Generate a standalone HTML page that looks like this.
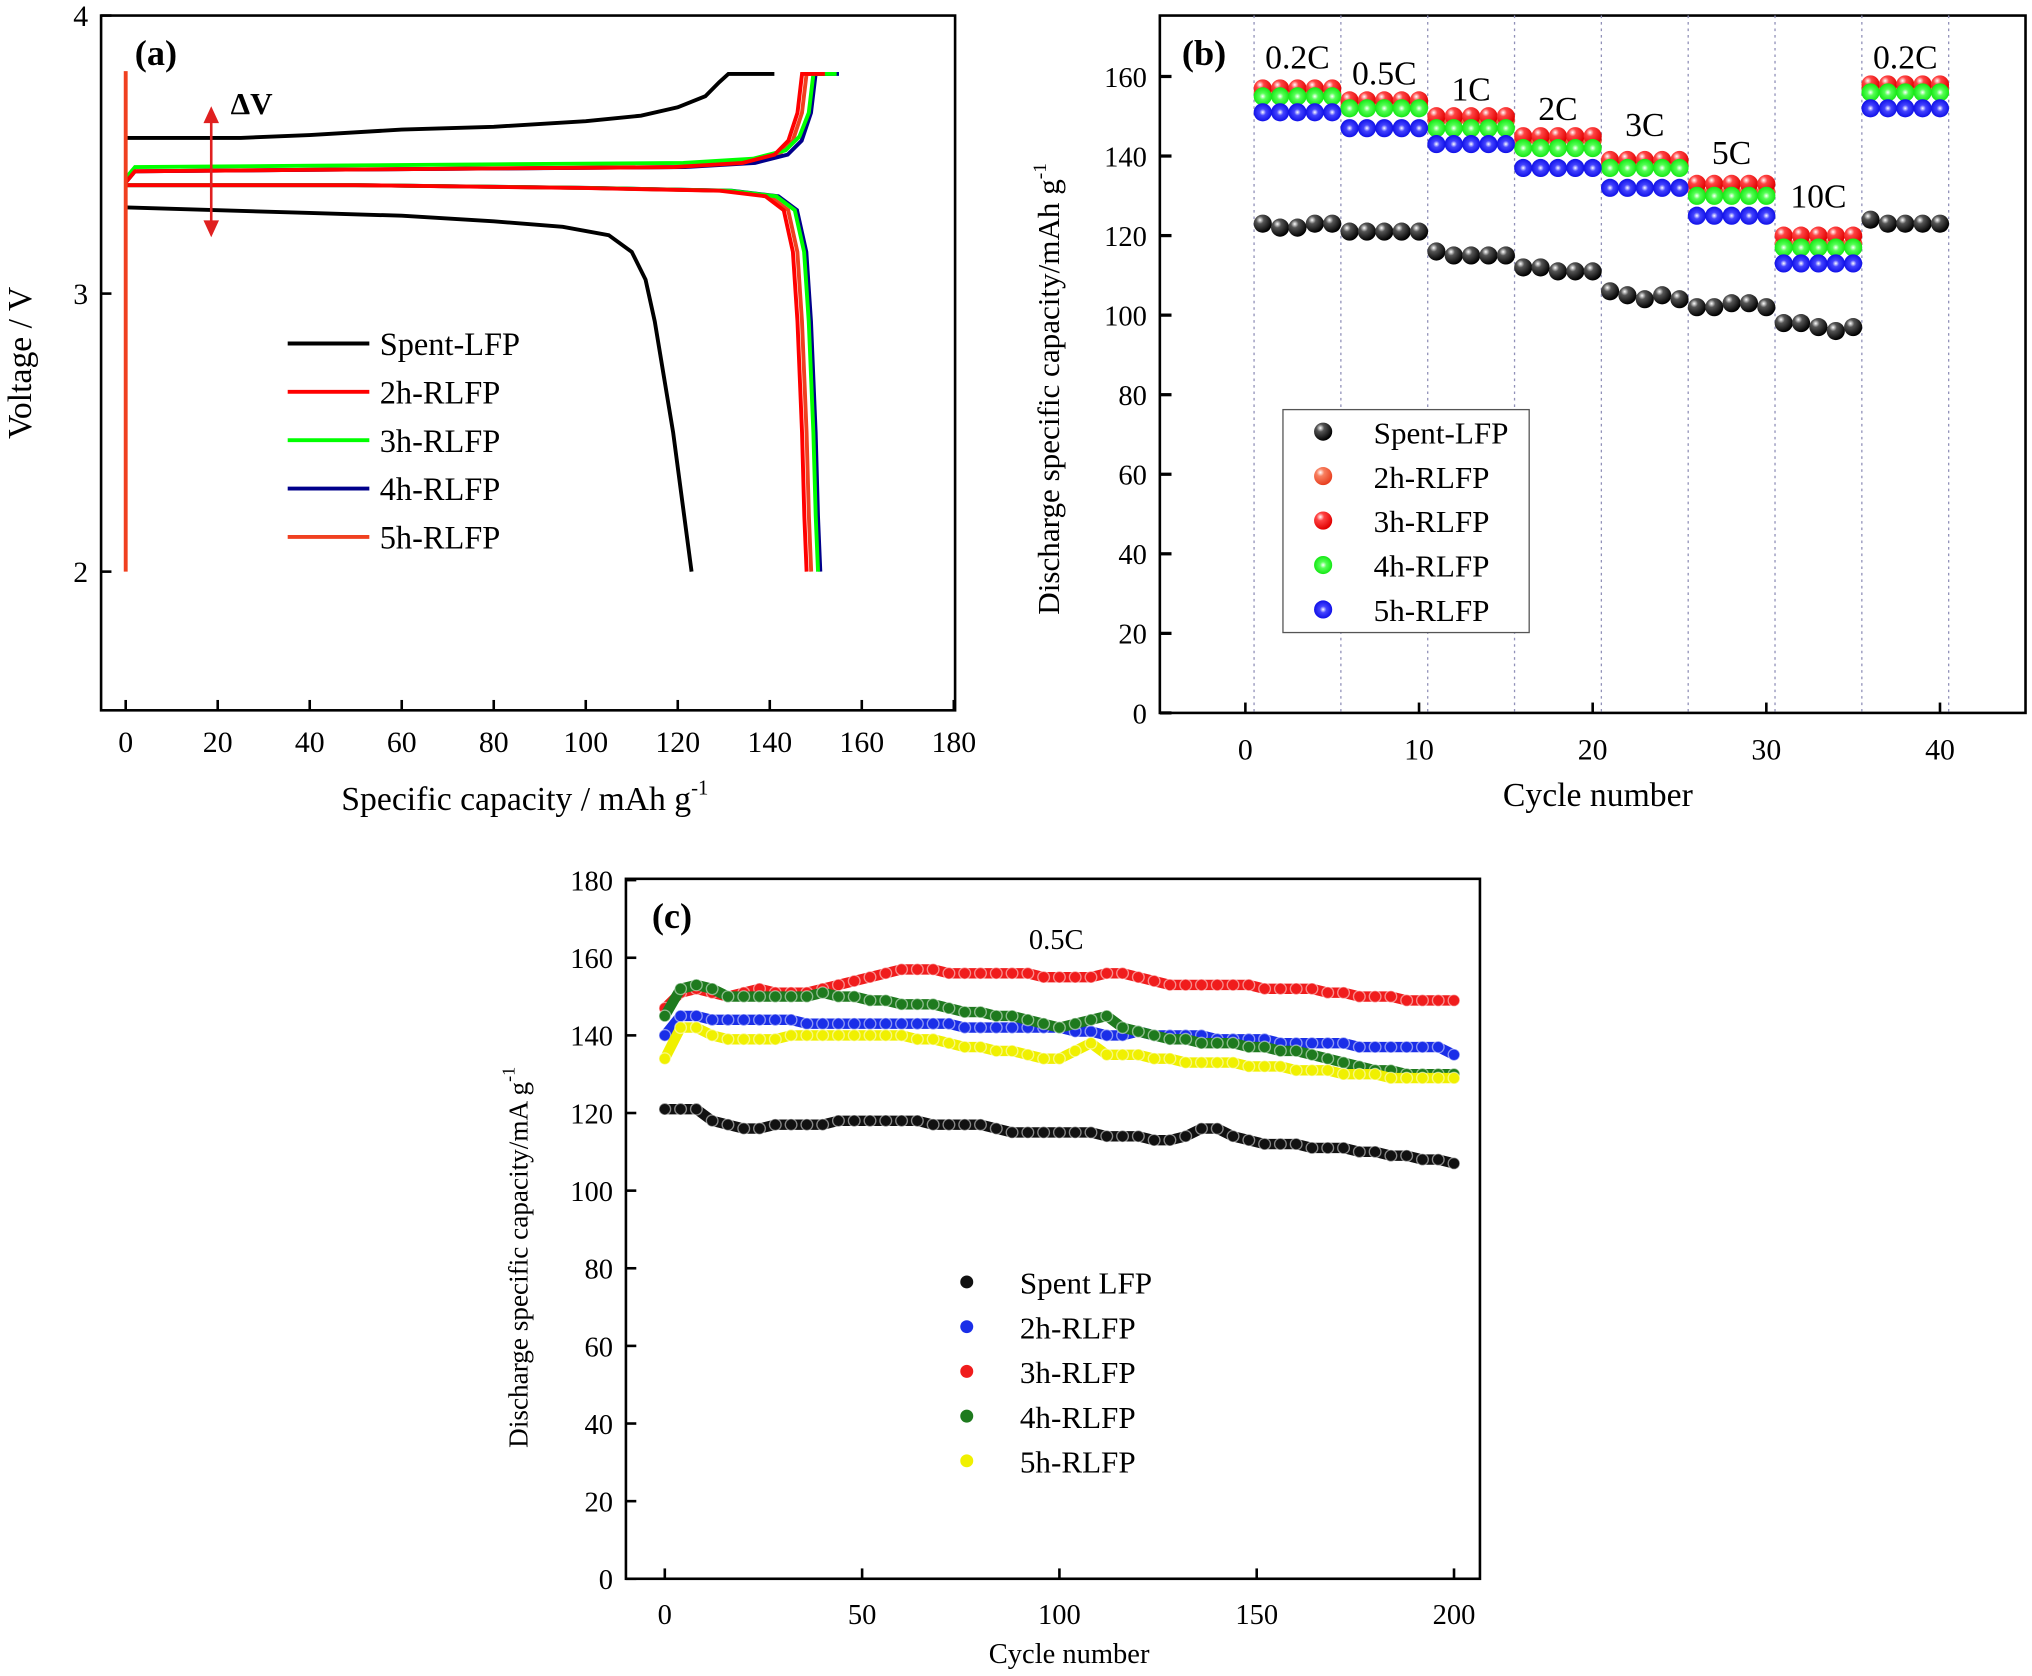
<!DOCTYPE html>
<html><head><meta charset="utf-8"><style>
html,body{margin:0;padding:0;background:#fff;}
svg{display:block;font-family:"Liberation Serif",serif;}
</style></head><body>
<svg id="fig" width="2032" height="1676" viewBox="0 0 1568 1293" preserveAspectRatio="none" xmlns="http://www.w3.org/2000/svg">
<defs>
<radialGradient id="gk" cx="0.35" cy="0.3" r="0.7"><stop offset="0" stop-color="#fff"/><stop offset="0.3" stop-color="#555"/><stop offset="1" stop-color="#000"/></radialGradient>
<radialGradient id="go" cx="0.35" cy="0.3" r="0.7"><stop offset="0" stop-color="#fff"/><stop offset="0.3" stop-color="#f88060"/><stop offset="1" stop-color="#e84020"/></radialGradient>
<radialGradient id="gr" cx="0.35" cy="0.3" r="0.7"><stop offset="0" stop-color="#fff"/><stop offset="0.3" stop-color="#f44"/><stop offset="1" stop-color="#e00000"/></radialGradient>
<radialGradient id="gg" cx="0.5" cy="0.5" r="0.6"><stop offset="0" stop-color="#fff"/><stop offset="0.3" stop-color="#5f5"/><stop offset="1" stop-color="#00e000"/></radialGradient>
<radialGradient id="gb" cx="0.5" cy="0.5" r="0.6"><stop offset="0" stop-color="#fff"/><stop offset="0.3" stop-color="#44f"/><stop offset="1" stop-color="#0000e0"/></radialGradient>
</defs>
<g id="pa"></g>
<g id="pb"></g>
<g id="pc"></g>
</svg>
<script>
// ---------- Panel (a) data ----------
const aSpentCharge = [[0,3.56],[10,3.56],[25,3.56],[40,3.57],[60,3.59],[80,3.60],[100,3.62],[112,3.64],[120,3.67],[126,3.71],[129,3.76],[131,3.79],[141,3.79]];
const aSpentDis = [[0,3.31],[20,3.30],[40,3.29],[60,3.28],[80,3.26],[95,3.24],[105,3.21],[110,3.15],[113,3.05],[115,2.9],[117,2.7],[119,2.5],[121,2.25],[123,2.0]];
const aRCharge = [[0,3.40],[2,3.44],[40,3.445],[80,3.45],[120,3.455],[135,3.47],[142,3.5],[145,3.55],[147,3.65],[148,3.79],[153,3.79]];
const aRDis = [[0,3.39],[50,3.39],[100,3.38],[130,3.37],[140,3.35],[144,3.3],[146,3.15],[147,2.9],[148,2.5],[148.5,2.2],[149,2.0]];
const aSeries = ['Spent-LFP','2h-RLFP','3h-RLFP','4h-RLFP','5h-RLFP'];
const aColors = ['#000','#f00','#0f0','#00008b','#f04020'];
const aShift = [0,-1,1.5,2,0];
const aChargeV = [0,0,0.015,0,0];
const aXTicks = [0,20,40,60,80,100,120,140,160,180];
const aYTicks = [2,3,4];
// ---------- Panel (b) data ----------
const bSeries = ['Spent-LFP','2h-RLFP','3h-RLFP','4h-RLFP','5h-RLFP'];
const bSpent = [123,122,122,123,123,121,121,121,121,121,116,115,115,115,115,112,112,111,111,111,106,105,104,105,104,102,102,103,103,102,98,98,97,96,97,124,123,123,123,123];
const b2h = [156,156,156,156,156,153,153,153,153,153,149,149,149,149,149,144,144,144,144,144,138,138,138,138,138,131,131,131,131,131,118,118,118,118,118,157,157,157,157,157];
const b3h = [157,157,157,157,157,154,154,154,154,154,150,150,150,150,150,145,145,145,145,145,139,139,139,139,139,133,133,133,133,133,120,120,120,120,120,158,158,158,158,158];
const b4h = [155,155,155,155,155,152,152,152,152,152,147,147,147,147,147,142,142,142,142,142,137,137,137,137,137,130,130,130,130,130,117,117,117,117,117,156,156,156,156,156];
const b5h = [151,151,151,151,151,147,147,147,147,147,143,143,143,143,143,137,137,137,137,137,132,132,132,132,132,125,125,125,125,125,113,113,113,113,113,152,152,152,152,152];
const bRates = ['0.2C','0.5C','1C','2C','3C','5C','10C','0.2C'];
const bRateY = [162,158,154,149,145,138,127,162];
const bXTicks = [0,10,20,30,40];
const bYTicks = [0,20,40,60,80,100,120,140,160];
// ---------- Panel (c) data (every 4 cycles) ----------
const cSeries = ['Spent LFP','2h-RLFP','3h-RLFP','4h-RLFP','5h-RLFP'];
const cSpent = [121,121,121,118,117,116,116,117,117,117,117,118,118,118,118,118,118,117,117,117,117,116,115,115,115,115,115,115,114,114,114,113,113,114,116,116,114,113,112,112,112,111,111,111,110,110,109,109,108,108,107];
const c2h = [140,145,145,144,144,144,144,144,144,143,143,143,143,143,143,143,143,143,143,142,142,142,142,142,142,142,141,141,140,140,141,140,140,140,140,139,139,139,139,138,138,138,138,138,137,137,137,137,137,137,135];
const c3h = [147,151,152,151,150,151,152,151,151,151,152,153,154,155,156,157,157,157,156,156,156,156,156,156,155,155,155,155,156,156,155,154,153,153,153,153,153,153,152,152,152,152,151,151,150,150,150,149,149,149,149];
const c4h = [145,152,153,152,150,150,150,150,150,150,151,150,150,149,149,148,148,148,147,146,146,145,145,144,143,142,143,144,145,142,141,140,139,139,138,138,138,137,137,136,136,135,134,133,132,131,131,130,130,130,130];
const c5h = [134,142,142,140,139,139,139,139,140,140,140,140,140,140,140,140,139,139,138,137,137,136,136,135,134,134,136,138,135,135,135,134,134,133,133,133,133,132,132,132,131,131,131,130,130,130,129,129,129,129,129];
const cXTicks = [0,50,100,150,200];
const cYTicks = [0,20,40,60,80,100,120,140,160,180];

const NS='http://www.w3.org/2000/svg';
function mk(tag, attrs, parent, text){
  const e=document.createElementNS(NS,tag);
  for(const k in attrs) e.setAttribute(k,attrs[k]);
  if(text!==undefined) e.textContent=text;
  parent.appendChild(e); return e;
}
function axesBox(g,x0,y0,x1,y1){
  const r=mk('rect',{x:x0,y:y0,width:x1-x0,height:y1-y0,fill:'none',stroke:'#000','stroke-width':2},g);
  
  
}
// ===== Panel A =====
(function(){
  const g=document.getElementById('pa');
  const X0=78,X1=737,Y0=12,Y1=548;
  const sx=v=>97+(v)*(736-97)/180;
  const sy=v=>441-(v-2)*214.5;
  axesBox(g,X0,Y0,X1,Y1);
  aXTicks.forEach(t=>{
    const l=mk('line',{x1:sx(t),x2:sx(t),y1:Y1,y2:Y1-8,stroke:'#000','stroke-width':2},g);
    
    
    const tx=mk('text',{x:sx(t),y:Y1+32,'font-size':23,'text-anchor':'middle'},g,t);
    
    
  });
  aYTicks.forEach(t=>{
    const l=mk('line',{x1:X0,x2:X0+8,y1:sy(t),y2:sy(t),stroke:'#000','stroke-width':2},g);
    
    
    const tx=mk('text',{x:X0-10,y:sy(t)+8,'font-size':23,'text-anchor':'end'},g,t);
    
    
  });
  for(let i=aSeries.length-1;i>=0;i--){
    const ch = i===0?aSpentCharge:aRCharge, di = i===0?aSpentDis:aRDis;
    const sh=aShift[i];
    const chPts=ch.map(p=>sx(p[0]===0?0:p[0]+sh*(p[0]/150))+','+sy(p[1]+aChargeV[i]*(p[1]<3.6?1:0))).join(' ');
    const diPts=di.map(p=>sx(p[0]===0?0:p[0]+sh*(p[0]/150))+','+sy(p[1])).join(' ');
    const p1=mk('polyline',{points:chPts,fill:'none',stroke:aColors[i],'stroke-width':3},g);
    
    
    const p2=mk('polyline',{points:diPts,fill:'none',stroke:aColors[i],'stroke-width':3},g);
    
    
  }
  const sp=mk('line',{x1:sx(0),x2:sx(0),y1:sy(2),y2:sy(3.8),stroke:'#f04020','stroke-width':3},g);
  
  
  const ar=mk('g',{},g);
  
  
  mk('line',{x1:163,x2:163,y1:85,y2:180,stroke:'#e02020','stroke-width':2},ar);
  mk('path',{d:'M157,95 L163,82 L169,95 Z M157,170 L163,183 L169,170 Z',fill:'#e02020'},ar);
  const dv=mk('text',{x:178,y:88,'font-size':24,'font-weight':'bold'},g,'ΔV');
  
  
  const lab=mk('text',{x:104,y:50,'font-size':28,'font-weight':'bold'},g,'(a)');
  
  
  aSeries.forEach((s,i)=>{
    const y=265+i*37.3;
    const l=mk('line',{x1:222,x2:285,y1:y,y2:y,stroke:aColors[i],'stroke-width':3},g);
    
    
    const t=mk('text',{x:293,y:y+9,'font-size':25},g,s);
    
    
  });
  const yl=mk('text',{transform:'translate(24,280) rotate(-90)','font-size':26,'text-anchor':'middle'},g,'Voltage / V');
  
  
  const xl=mk('text',{x:405,y:625,'font-size':26,'text-anchor':'middle'},g);
  
  
  xl.innerHTML='Specific capacity / mAh g<tspan dy="-12" font-size="16">-1</tspan>';
})();
// ===== Panel B =====
(function(){
  const g=document.getElementById('pb');
  const X0=895,X1=1563,Y0=12,Y1=550;
  const sx=v=>961+v*13.4;
  const sy=v=>550-v*(550-59)/160;
  axesBox(g,X0,Y0,X1,Y1);
  for(let k=0;k<=8;k++){
    const x=sx(0.5+k*5);
    const l=mk('line',{x1:x,x2:x,y1:Y0,y2:Y1,stroke:'#9090b8','stroke-width':1,'stroke-dasharray':'2,3'},g);
    
    
  }
  bXTicks.forEach(t=>{
    const l=mk('line',{x1:sx(t),x2:sx(t),y1:Y1,y2:Y1-8,stroke:'#000','stroke-width':2},g);
    
    
    const tx=mk('text',{x:sx(t),y:Y1+36,'font-size':23,'text-anchor':'middle'},g,t);
    
    
  });
  bYTicks.forEach(t=>{
    const l=mk('line',{x1:X0,x2:X0+9,y1:sy(t),y2:sy(t),stroke:'#000','stroke-width':2.5},g);
    
    
    const tx=mk('text',{x:X0-10,y:sy(t)+8,'font-size':22,'text-anchor':'end'},g,t);
    
    
  });
  const data=[bSpent,b2h,b3h,b4h,b5h], fills=['url(#gk)','url(#go)','url(#gr)','url(#gg)','url(#gb)'];
  const order=[1,2,3,4,0];
  order.forEach(si=>{
    data[si].forEach((v,i)=>{
      const c=mk('circle',{cx:sx(i+1),cy:sy(v),r:7,fill:fills[si]},g);
      
      
    });
  });
  bRates.forEach((r,k)=>{
    const t=mk('text',{x:sx(3+k*5),y:sy(bRateY[k]),'font-size':26,'text-anchor':'middle'},g,r);
    
    
  });
  const lab=mk('text',{x:912,y:50,'font-size':28,'font-weight':'bold'},g,'(b)');
  
  
  const lg=mk('g',{},g);
  
  
  mk('rect',{x:990,y:316,width:190,height:172,fill:'#fff',stroke:'#555','stroke-width':1},lg);
  bSeries.forEach((s,i)=>{
    const y=333+i*34.3;
    const c=mk('circle',{cx:1021,cy:y,r:7,fill:fills[i]},lg);
    
    
    const t=mk('text',{x:1060,y:y+9,'font-size':24},lg,s);
    
    
  });
  const yl=mk('text',{transform:'translate(817,300) rotate(-90)','font-size':24,'text-anchor':'middle'},g);
  
  
  yl.innerHTML='Discharge specific capacity/mAh g<tspan dy="-10" font-size="15">-1</tspan>';
  const xl=mk('text',{x:1233,y:622,'font-size':26,'text-anchor':'middle'},g,'Cycle number');
  
  
})();
// ===== Panel C =====
(function(){
  const g=document.getElementById('pc');
  const X0=483,X1=1142,Y0=678,Y1=1218;
  const sx=v=>513+v*(1122-513)/200;
  const sy=v=>1218-v*(1218-679)/180;
  axesBox(g,X0,Y0,X1,Y1);
  cXTicks.forEach(t=>{
    const l=mk('line',{x1:sx(t),x2:sx(t),y1:Y1,y2:Y1-8,stroke:'#000','stroke-width':2},g);
    
    
    const tx=mk('text',{x:sx(t),y:Y1+35,'font-size':22,'text-anchor':'middle'},g,t);
    
    
  });
  cYTicks.forEach(t=>{
    const l=mk('line',{x1:X0,x2:X0+8,y1:sy(t),y2:sy(t),stroke:'#000','stroke-width':2},g);
    
    
    const tx=mk('text',{x:X0-10,y:sy(t)+8,'font-size':22,'text-anchor':'end'},g,t);
    
    
  });
  const data=[cSpent,c2h,c3h,c4h,c5h], cols=['#111','#1a2ee8','#f01c1c','#1e7a1e','#f0f000'];
  const order=[2,1,3,4,0];
  order.forEach(si=>{
    const pts=data[si].map((v,i)=>sx(i*4)+','+sy(v)).join(' ');
    const pl=mk('polyline',{points:pts,fill:'none',stroke:cols[si],'stroke-width':8,'stroke-linejoin':'round','stroke-linecap':'round'},g);
    
    
    data[si].forEach((v,i)=>{
      const c=mk('circle',{cx:sx(i*4),cy:sy(v),r:4.5,fill:cols[si],stroke:'rgba(255,255,255,0.5)','stroke-width':1},g);
      
      
    });
  });
  const rt=mk('text',{x:815,y:732,'font-size':22,'text-anchor':'middle'},g,'0.5C');
  
  
  const lab=mk('text',{x:503,y:716,'font-size':28,'font-weight':'bold'},g,'(c)');
  
  
  cSeries.forEach((s,i)=>{
    const y=989+i*34.5;
    const c=mk('circle',{cx:746,cy:y,r:5,fill:cols[i]},g);
    
    
    const t=mk('text',{x:787,y:y+9,'font-size':24},g,s);
    
    
  });
  const yl=mk('text',{transform:'translate(407,970) rotate(-90)','font-size':21,'text-anchor':'middle'},g);
  
  
  yl.innerHTML='Discharge specific capacity/mA g<tspan dy="-10" font-size="14">-1</tspan>';
  const xl=mk('text',{x:825,y:1283,'font-size':22,'text-anchor':'middle'},g,'Cycle number');
  
  
})();
</script>
</body></html>
